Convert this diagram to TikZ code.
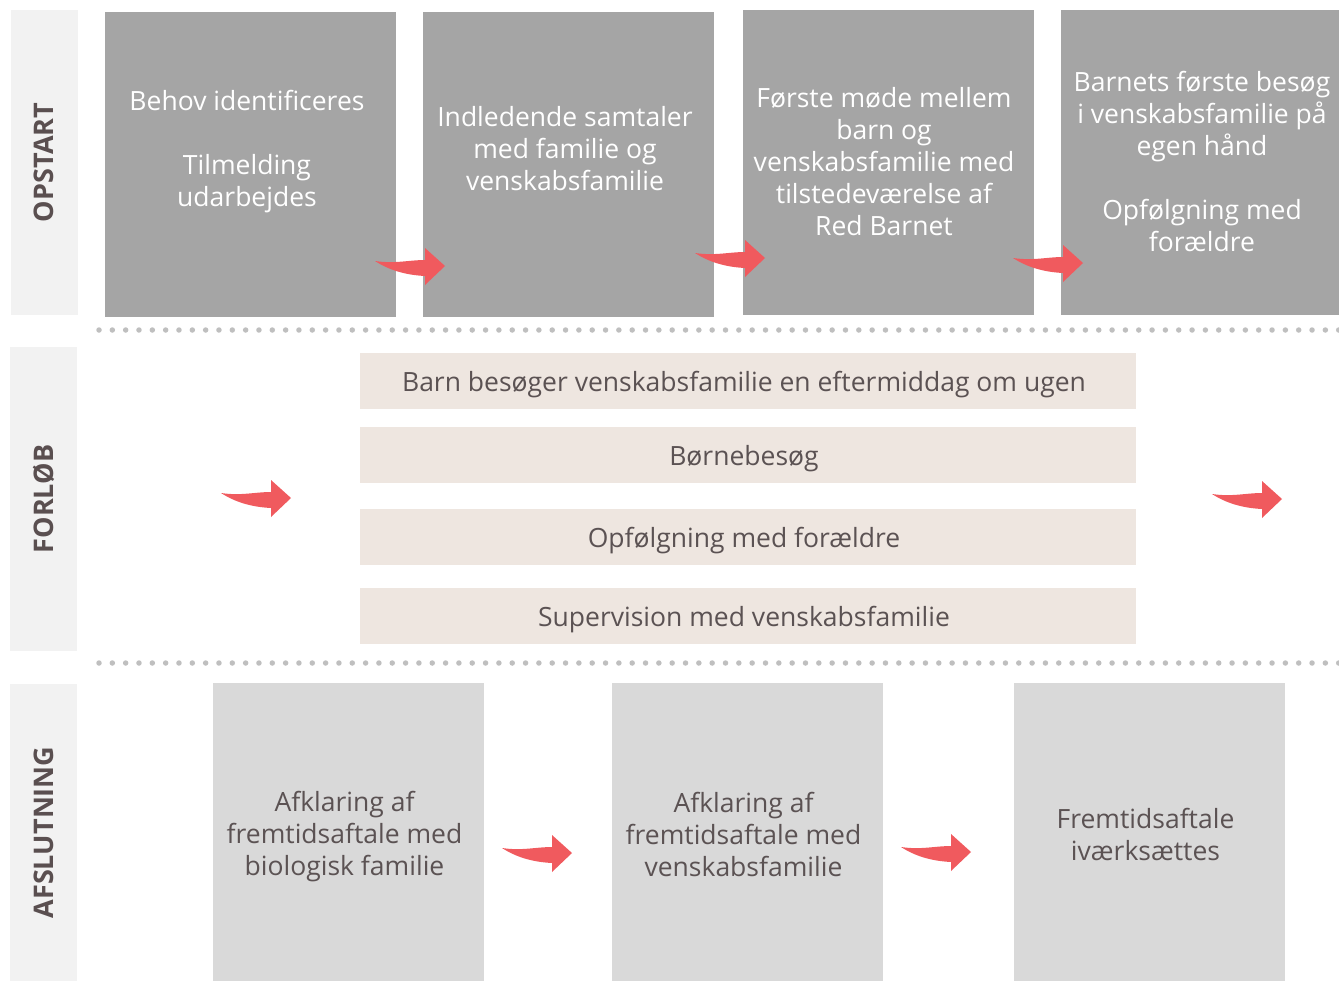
\documentclass[tikz,border=0pt]{standalone}
\usepackage{fontspec}
\setmainfont{Open Sans}
\usetikzlibrary{calc}
\definecolor{phasebg}{HTML}{F2F2F2}
\definecolor{phasefg}{HTML}{5A4F50}
\definecolor{darkbox}{HTML}{A5A5A5}
\definecolor{lightbox}{HTML}{D9D9D9}
\definecolor{beigebar}{HTML}{EEE6E0}
\definecolor{bodytext}{HTML}{5B5253}
\definecolor{swooshred}{HTML}{F05A5E}
\definecolor{dotgray}{HTML}{BFBFBF}
\tikzset{
    swoosh/.pic={
        \fill[swooshred] (-70,-5) .. controls (-50,-2) and (-36,-6) .. (-20,-6)
            -- (-20,-18) -- (0,0) -- (-20,19) -- (-20,10)
            .. controls (-40,9) and (-56,4) .. (-70,-5) -- cycle;
    },
    phase/.style={fill=phasebg,minimum width=67pt,inner sep=0pt},
    phaselabel/.style={rotate=90,text=phasefg,font=\fontsize{27}{30}\selectfont\bfseries},
    topbox/.style={fill=darkbox,minimum width=291pt,minimum height=304pt,inner sep=0pt},
    toptext/.style={align=center,text=white,font=\fontsize{26.5}{32}\selectfont},
    bar/.style={fill=beigebar,minimum width=776pt,minimum height=56pt,inner sep=0pt,
        text depth=0pt,text=bodytext,font=\fontsize{26.5}{32}\selectfont},
    endbox/.style={fill=lightbox,minimum width=271pt,minimum height=298pt,inner sep=0pt},
    endtext/.style={align=center,text=bodytext,font=\fontsize{26.5}{32}\selectfont},
    dotline/.style={dotgray,line width=5.5pt,line cap=round,dash pattern=on 0pt off 13.33pt},
}

\begin{document}
\begin{tikzpicture}[x=1pt,y=-1pt]
    \useasboundingbox (0,0) rectangle (1339,982);
    % phase columns
    \node[phase,minimum height=305pt] (P1) at (44,162.5){};
    \node[phase,minimum height=304pt] (P2) at (43.5,499){};
    \node[phase,minimum height=297pt] (P3) at (43.5,832.5){};
    \node[phaselabel] at (P1){OPSTART};
    \node[phaselabel] at (P2){FORLØB};
    \node[phaselabel] at (P3){AFSLUTNING};
    % opstart
    \node[topbox] (S1) at (250.5,164.5){};
    \node[topbox] (S2) at (568.5,164.5){};
    \node[topbox] (S3) at (888.5,162.5){};
    \node[topbox] (S4) at (1206.5,162.5){};
    \node[toptext] at (247,152){Behov identificeres\\[32pt]Tilmelding\\udarbejdes};
    \node[toptext] at (565,149){Indledende samtaler\\med familie og\\venskabsfamilie};
    \node[toptext] at (884,162){Første møde mellem\\barn og\\venskabsfamilie med\\tilstedeværelse af\\Red Barnet};
    \node[toptext] at (1202,161){Barnets første besøg\\i venskabsfamilie på\\egen hånd\\[32pt]Opfølgning med\\forældre};
    \pic at (445,266) {swoosh};
    \pic at (765,258) {swoosh};
    \pic at (1083,263) {swoosh};
    \draw[dotline] (99,330)--(1345,330);
    % forloeb
    \node[bar] (F1) at (748,381){\hspace*{-8pt}Barn besøger venskabsfamilie en eftermiddag om ugen};
    \node[bar] (F2) at (748,455){\hspace*{-8pt}Børnebesøg};
    \node[bar] (F3) at (748,537){\hspace*{-8pt}Opfølgning med forældre};
    \node[bar] (F4) at (748,616){\hspace*{-8pt}Supervision med venskabsfamilie};
    \pic at (291,498) {swoosh};
    \pic at (1282,499) {swoosh};
    \draw[dotline] (99,663)--(1345,663);
    % afslutning
    \node[endbox] (E1) at (348.5,832){};
    \node[endbox] (E2) at (747.5,832){};
    \node[endbox] (E3) at (1149.5,832){};
    \node[endtext] at (344.5,837){Afklaring af\\fremtidsaftale med\\biologisk familie};
    \node[endtext] at (743.5,834){Afklaring af\\fremtidsaftale med\\venskabsfamilie};
    \node[endtext] at (1145.5,834){Fremtidsaftale\\iværksættes};
    \pic at (572,853) {swoosh};
    \pic at (971,852) {swoosh};
\end{tikzpicture}
\end{document}
